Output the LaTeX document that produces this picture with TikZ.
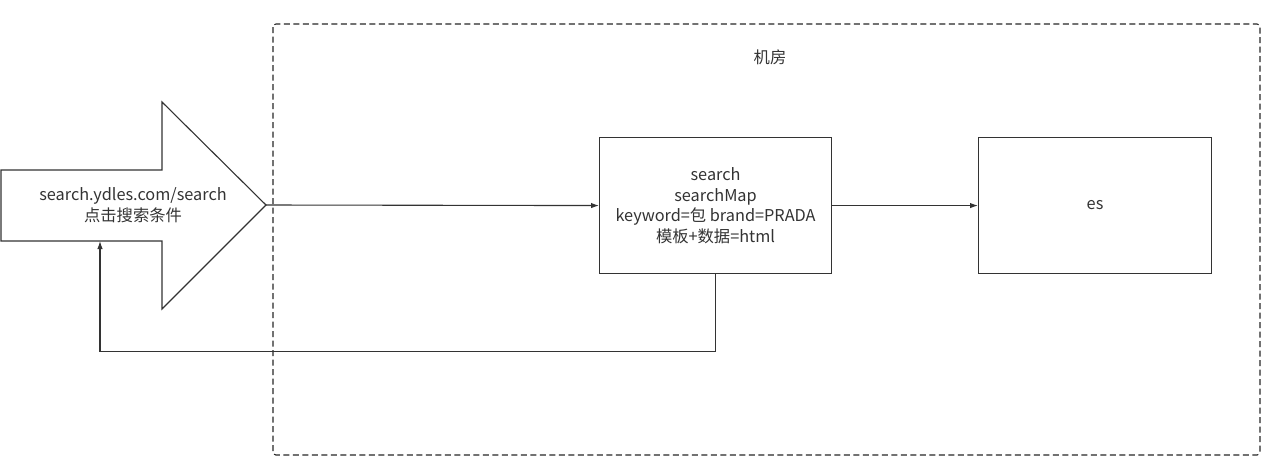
\documentclass[tikz,border=0pt]{standalone}
\usepackage{fontspec}
\setmainfont{Noto Sans CJK SC}
\usepackage{tikz}
\usetikzlibrary{arrows.meta}

\begin{document}
\begin{tikzpicture}[x=1pt,y=-1pt,line width=1.1pt,
    box/.style={draw=black!80,minimum width=232pt,minimum height=136pt,inner sep=0pt,align=center},
    conn/.style={draw=black!80,-{Latex[length=8pt,width=5.5pt]}}]
    \tikzstyle{every node}=[font=\fontsize{16.3}{20.5}\selectfont,text=black!80]
    \useasboundingbox (0,0) rectangle (1282,467);
    % machine room
    \draw[black!85,dash pattern=on 6pt off 3.5pt,rounded corners=3pt] (273,24) rectangle (1260,455);
    \node (room) at (770,57) {机房};
    % client arrow
    \draw[black!80] (1,170) -- (162,170) -- (162,102) -- (266,205) coordinate (tip)
        -- (162,309) -- (162,241) -- (100,241) coordinate (shaftbottom) -- (1,241) -- cycle;
    \node[align=center] (client) at (133,205) {search.ydles.com/search\\点击搜索条件};
    \node[box,anchor=north west] (search) at (599,137)
        {search\\searchMap\\keyword=包 brand=PRADA\\模板+数据=html};
    \node[box,anchor=north west,minimum width=233pt] (es) at (978,137) {es};
    \draw[conn] (tip) -- (search.west);
    \draw[conn] (search.east) -- (es.west);
    \draw[conn] (search.south) -- ++(0,77) -| (shaftbottom);
\end{tikzpicture}
\end{document}
